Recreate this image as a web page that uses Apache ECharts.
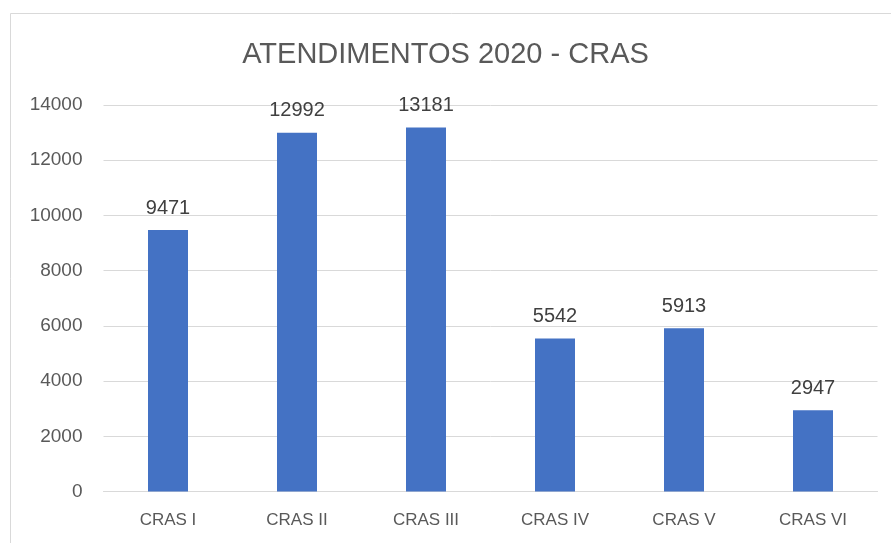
<!DOCTYPE html>
<html><head><meta charset="utf-8">
<script src="https://cdn.jsdelivr.net/npm/echarts@6/dist/echarts.min.js"></script>
<style>html,body{margin:0;padding:0;background:#fff}#c{width:891px;height:543px}</style>
</head><body><div id="c"></div>
<script>
const categories = ['CRAS I','CRAS II','CRAS III','CRAS IV','CRAS V','CRAS VI'];
const values = [9471, 12992, 13181, 5542, 5913, 2947];
const titleText = 'ATENDIMENTOS 2020 - CRAS';

const chart = echarts.init(document.getElementById('c'), null, {renderer:'canvas'});
const FONT = 'Liberation Sans, sans-serif';
chart.setOption({
  animation:false,
  backgroundColor:'#fff',
  graphic:[{type:'rect', shape:{x:10.5,y:13.5,width:900,height:600}, style:{fill:'none', stroke:'#d9d9d9', lineWidth:1}}],
  title:{text:titleText, left:'center', top:35, textStyle:{fontFamily:FONT, fontSize:29, fontWeight:'normal', color:'#595959'}},
  grid:{left:103.5, right:13.5, top:105, bottom:51.5},
  xAxis:{type:'category', data:categories,
    axisLine:{lineStyle:{color:'#d9d9d9', width:1}}, axisTick:{show:false},
    axisLabel:{fontFamily:FONT, fontSize:17, color:'#595959', margin:20}},
  yAxis:{type:'value', min:0, max:14000, interval:2000,
    axisLine:{show:false}, axisTick:{show:false},
    splitLine:{lineStyle:{color:'#d9d9d9', width:1}},
    axisLabel:{fontFamily:FONT, fontSize:19, color:'#595959', margin:21, formatter:v=>String(v)}},
  series:[{type:'bar', data:values, barWidth:40, itemStyle:{color:'#4472c4'},
    label:{show:true, position:'top', distance:12, fontFamily:FONT, fontSize:20, color:'#404040'}}]
});
</script></body></html>
